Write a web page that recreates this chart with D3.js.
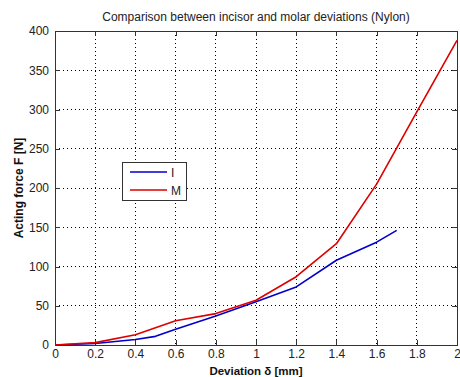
<!DOCTYPE html>
<html><head><meta charset="utf-8">
<script src="https://cdn.jsdelivr.net/npm/d3@7"></script>
<style>body{margin:0;background:#fff}svg{display:block}text{font-family:"Liberation Sans",Arial,sans-serif}</style>
</head><body><svg id="c" width="460" height="377"></svg>
<script>
const xTicks=[0,0.2,0.4,0.6,0.8,1,1.2,1.4,1.6,1.8,2];
const xTickLabels=["0","0.2","0.4","0.6","0.8","1","1.2","1.4","1.6","1.8","2"];
const yTicks=[0,50,100,150,200,250,300,350,400];
const xI=[0,0.2,0.4,0.5,0.6,0.8,1.0,1.2,1.4,1.6,1.7];
const yI=[0,2,7,11,20,37,55,74,108,131,146];
const xM=[0,0.2,0.4,0.6,0.8,1.0,1.2,1.4,1.6,1.8,2.0];
const yM=[0,3,13,31,40,57,87,129,205,297,388];
const seriesNames=["I","M"];
const colors=["#0000cc","#dd0000"];

const svg=d3.select("#c");
const m={l:55,r:457,t:31,b:345};
const x=d3.scaleLinear().domain([0,2]).range([m.l,m.r]);
const y=d3.scaleLinear().domain([0,400]).range([m.b,m.t]);

// grid
const g=svg.append("g");
g.selectAll(".gx").data(xTicks.slice(1,-1)).enter().append("line")
 .attr("x1",d=>x(d)).attr("x2",d=>x(d)).attr("y1",m.t).attr("y2",m.b)
 .attr("stroke","#000").attr("stroke-width",1).attr("stroke-dasharray","1,3").attr("shape-rendering","crispEdges");
g.selectAll(".gy").data(yTicks.slice(1,-1)).enter().append("line")
 .attr("y1",d=>y(d)).attr("y2",d=>y(d)).attr("x1",m.l).attr("x2",m.r)
 .attr("stroke","#000").attr("stroke-width",1).attr("stroke-dasharray","1,3").attr("shape-rendering","crispEdges");

// axes
const xa=svg.append("g").attr("transform",`translate(0,${m.b})`)
 .call(d3.axisBottom(x).tickValues(xTicks).tickFormat((d,i)=>xTickLabels[i]).tickSizeInner(-5).tickSizeOuter(0).tickPadding(4));
const ya=svg.append("g").attr("transform",`translate(${m.l},0)`)
 .call(d3.axisLeft(y).tickValues(yTicks).tickSizeInner(-5).tickSizeOuter(0).tickPadding(6));
const xt=svg.append("g").attr("transform",`translate(0,${m.t})`)
 .call(d3.axisTop(x).tickValues(xTicks).tickFormat("").tickSizeInner(-5).tickSizeOuter(0));
const yr=svg.append("g").attr("transform",`translate(${m.r},0)`)
 .call(d3.axisRight(y).tickValues(yTicks).tickFormat("").tickSizeInner(-5).tickSizeOuter(0));
[xa,ya,xt,yr].forEach(a=>{a.selectAll("path,line").attr("stroke","#333").attr("shape-rendering","crispEdges");
 a.selectAll("text").attr("font-size","12px").attr("fill","#222").attr("font-family","Liberation Sans, Arial, sans-serif");});

// lines
const line=d3.line().x(d=>x(d[0])).y(d=>y(d[1]));
const data=[d3.zip(xI,yI),d3.zip(xM,yM)];
data.forEach((d,i)=>svg.append("path").datum(d).attr("d",line).attr("fill","none")
 .attr("stroke",colors[i]).attr("stroke-width",1.6).attr("stroke-linejoin","round"));

// title & labels
svg.append("text").attr("x",(m.l+m.r)/2).attr("y",21).attr("text-anchor","middle")
 .attr("font-size","12px").attr("fill","#222").text("Comparison between incisor and molar deviations (Nylon)");
svg.append("text").attr("x",(m.l+m.r)/2).attr("y",375).attr("text-anchor","middle")
 .attr("font-size","11.5px").attr("font-weight","bold").attr("fill","#111").text("Deviation δ [mm]");
svg.append("text").attr("transform",`translate(23,${(m.t+m.b)/2}) rotate(-90)`).attr("text-anchor","middle")
 .attr("font-size","12px").attr("font-weight","bold").attr("fill","#111").text("Acting force F [N]");

// legend
const lg=svg.append("g");
lg.append("rect").attr("x",122.5).attr("y",162.5).attr("width",64).attr("height",38)
 .attr("fill","#fff").attr("stroke","#333").attr("stroke-width",1);
seriesNames.forEach((n,i)=>{
 const yy=172+i*18;
 lg.append("line").attr("x1",130).attr("x2",167).attr("y1",yy).attr("y2",yy).attr("stroke",colors[i]).attr("stroke-width",1.6);
 lg.append("text").attr("x",171).attr("y",yy+4.5).attr("font-size","12px").attr("fill","#222").text(n);
});
</script></body></html>
